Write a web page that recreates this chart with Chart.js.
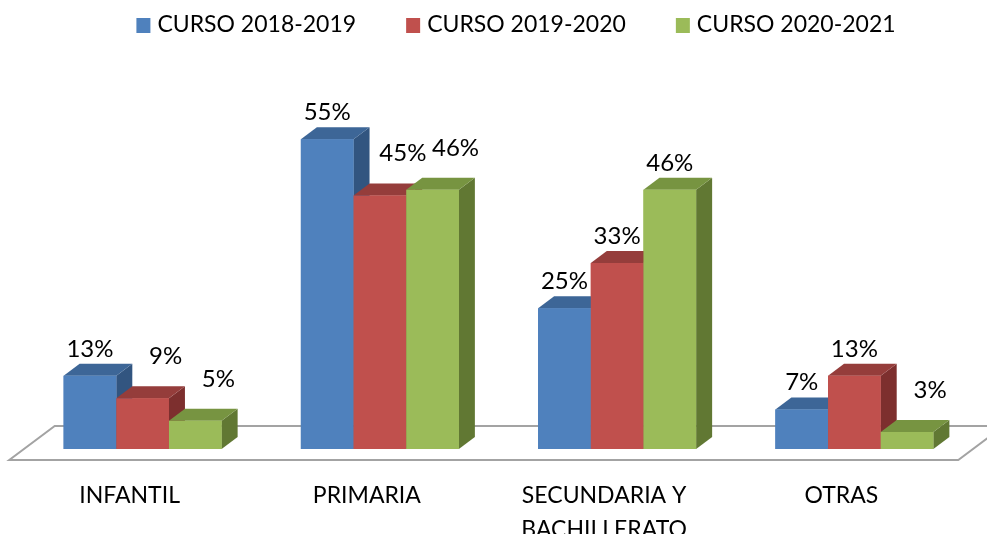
<!DOCTYPE html>
<html>
<head>
<meta charset="utf-8">
<script src="https://cdn.jsdelivr.net/npm/chart.js@4.4.1/dist/chart.umd.min.js"></script>
<style>
    html, body { margin: 0; padding: 0; background: #fff; }
    #wrap { width: 987px; height: 534px; position: relative; }
</style>
</head>
<body>
<div id="wrap"><canvas id="chart"></canvas></div>
<script>
const categories = ['INFANTIL', 'PRIMARIA', ['SECUNDARIA Y', 'BACHILLERATO'], 'OTRAS'];
const seriesNames = ['CURSO 2018-2019', 'CURSO 2019-2020', 'CURSO 2020-2021'];
const curso1819 = [13, 55, 25, 7];
const curso1920 = [9, 45, 33, 13];
const curso2021 = [5, 46, 46, 3];

const frontColors = ['#4F81BD', '#C0504D', '#9BBB59'];
const topColors = ['#3D6697', '#953D3B', '#779441'];
const sideColors = ['#325580', '#7D2F2E', '#617833'];

const FONT_FAMILY = 'Lato, "Open Sans", sans-serif';
const FONT_SIZE = 23;
const DX = 16, DY = -12;   // depth of a bar (3d look)

// white floor under the bars
const floorPlugin = {
    id: 'floor',
    beforeDatasetsDraw(chart) {
        const ctx = chart.ctx;
        const area = chart.chartArea;
        const y0 = chart.scales.y.getPixelForValue(0);
        const kFront = -0.92, kBack = 1.92;
        ctx.save();
        ctx.beginPath();
        ctx.moveTo(area.left + kFront * DX, y0 + kFront * DY);
        ctx.lineTo(area.right + kFront * DX, y0 + kFront * DY);
        ctx.lineTo(area.right + kBack * DX, y0 + kBack * DY);
        ctx.lineTo(area.left + kBack * DX, y0 + kBack * DY);
        ctx.closePath();
        ctx.fillStyle = '#fff';
        ctx.fill();
        ctx.strokeStyle = '#a3a3a3';
        ctx.lineWidth = 2;
        ctx.stroke();
        ctx.restore();
    }
};

function poly(ctx, pts, color) {
    ctx.beginPath();
    ctx.moveTo(pts[0][0], pts[0][1]);
    for (let i = 1; i < pts.length; i++) ctx.lineTo(pts[i][0], pts[i][1]);
    ctx.closePath();
    ctx.fillStyle = color;
    ctx.fill();
}

function overlaps(a, b) {
    return a.l < b.r && a.r > b.l && a.t < b.b && a.b > b.t;
}

// sides, tops, fronts, then the value labels
const boxesPlugin = {
    id: 'boxes3d',
    afterDatasetsDraw(chart) {
        const ctx = chart.ctx;
        const nSets = chart.data.datasets.length;
        ctx.save();
        for (let i = 0; i < categories.length; i++) {
            for (let d = 0; d < nSets; d++) {
                const bar = chart.getDatasetMeta(d).data[i];
                const l = bar.x - bar.width / 2, r = bar.x + bar.width / 2;
                const t = bar.y, b = bar.base;
                poly(ctx, [[r, t], [r + DX, t + DY], [r + DX, b + DY], [r, b]], sideColors[d]);
                poly(ctx, [[l, t], [l + DX, t + DY], [r + DX, t + DY], [r, t]], topColors[d]);
                poly(ctx, [[l, t], [r, t], [r, b], [l, b]], frontColors[d]);
            }
        }

        ctx.font = '24px ' + FONT_FAMILY;
        ctx.fillStyle = '#000';
        ctx.textAlign = 'center';
        ctx.textBaseline = 'middle';
        for (let i = 0; i < categories.length; i++) {
            const taken = [];
            for (let d = 0; d < nSets; d++) {
                const bar = chart.getDatasetMeta(d).data[i];
                const value = chart.data.datasets[d].data[i];
                const text = value + '%';
                const w = ctx.measureText(text).width;
                let cx = bar.x, cy = bar.y - 27;
                for (let tries = 0; tries < 4; tries++) {
                    const box = {l: cx - w / 2, r: cx + w / 2, t: cy - 10, b: cy + 10};
                    if (!taken.some(o => overlaps(box, o))) break;
                    cx += 23;
                    cy -= 15;
                }
                ctx.fillText(text, cx, cy);
                taken.push({l: cx - w / 2, r: cx + w / 2, t: cy - 10, b: cy + 10});
                taken.push({
                    l: bar.x - bar.width / 2, r: bar.x + bar.width / 2 + DX,
                    t: bar.y + DY, b: bar.base
                });
            }
        }
        ctx.restore();
    }
};

// legend drawn like the original: small squares, tight gap to the text
const legendPlugin = {
    id: 'topLegend',
    afterDraw(chart) {
        const ctx = chart.ctx;
        const sets = chart.data.datasets;
        ctx.save();
        ctx.font = FONT_SIZE + 'px ' + FONT_FAMILY;
        ctx.textBaseline = 'middle';
        ctx.textAlign = 'left';
        const box = 14, gap = 7, spacing = 50;
        const widths = sets.map(s => ctx.measureText(s.label).width);
        let total = widths.reduce((a, w) => a + box + gap + w, 0) + spacing * (sets.length - 1);
        let x = 516 - total / 2;
        const y = 25;
        sets.forEach((s, d) => {
            ctx.fillStyle = frontColors[d];
            ctx.fillRect(x, y - 7, box, 15);
            ctx.fillStyle = '#000';
            ctx.fillText(s.label, x + box + gap, y);
            x += box + gap + widths[d] + spacing;
        });
        ctx.restore();
    }
};

const seriesValues = [curso1819, curso1920, curso2021];

new Chart(document.getElementById('chart'), {
    type: 'bar',
    data: {
        labels: categories,
        datasets: seriesValues.map((vals, d) => ({
            label: seriesNames[d],
            data: vals,
            backgroundColor: frontColors[d],
            borderWidth: 0,
            categoryPercentage: 0.666,
            barPercentage: 1
        }))
    },
    options: {
        responsive: true,
        maintainAspectRatio: false,
        devicePixelRatio: 1,
        animation: false,
        layout: {
            padding: {left: 24, right: 14, top: 111, bottom: 0}
        },
        plugins: {
            legend: {display: false},
            tooltip: {enabled: false}
        },
        scales: {
            x: {
                grid: {display: false, drawTicks: false},
                border: {display: false},
                ticks: {
                    color: '#000',
                    padding: 29,
                    labelOffset: -13,
                    maxRotation: 0,
                    autoSkip: false,
                    font: {family: FONT_FAMILY, size: FONT_SIZE, lineHeight: 1.5}
                },
                afterFit: function(scale) {
                    scale.height = 85;
                }
            },
            y: {
                display: false,
                min: 0,
                max: 60
            }
        }
    },
    plugins: [floorPlugin, boxesPlugin, legendPlugin]
});
</script>
</body>
</html>
